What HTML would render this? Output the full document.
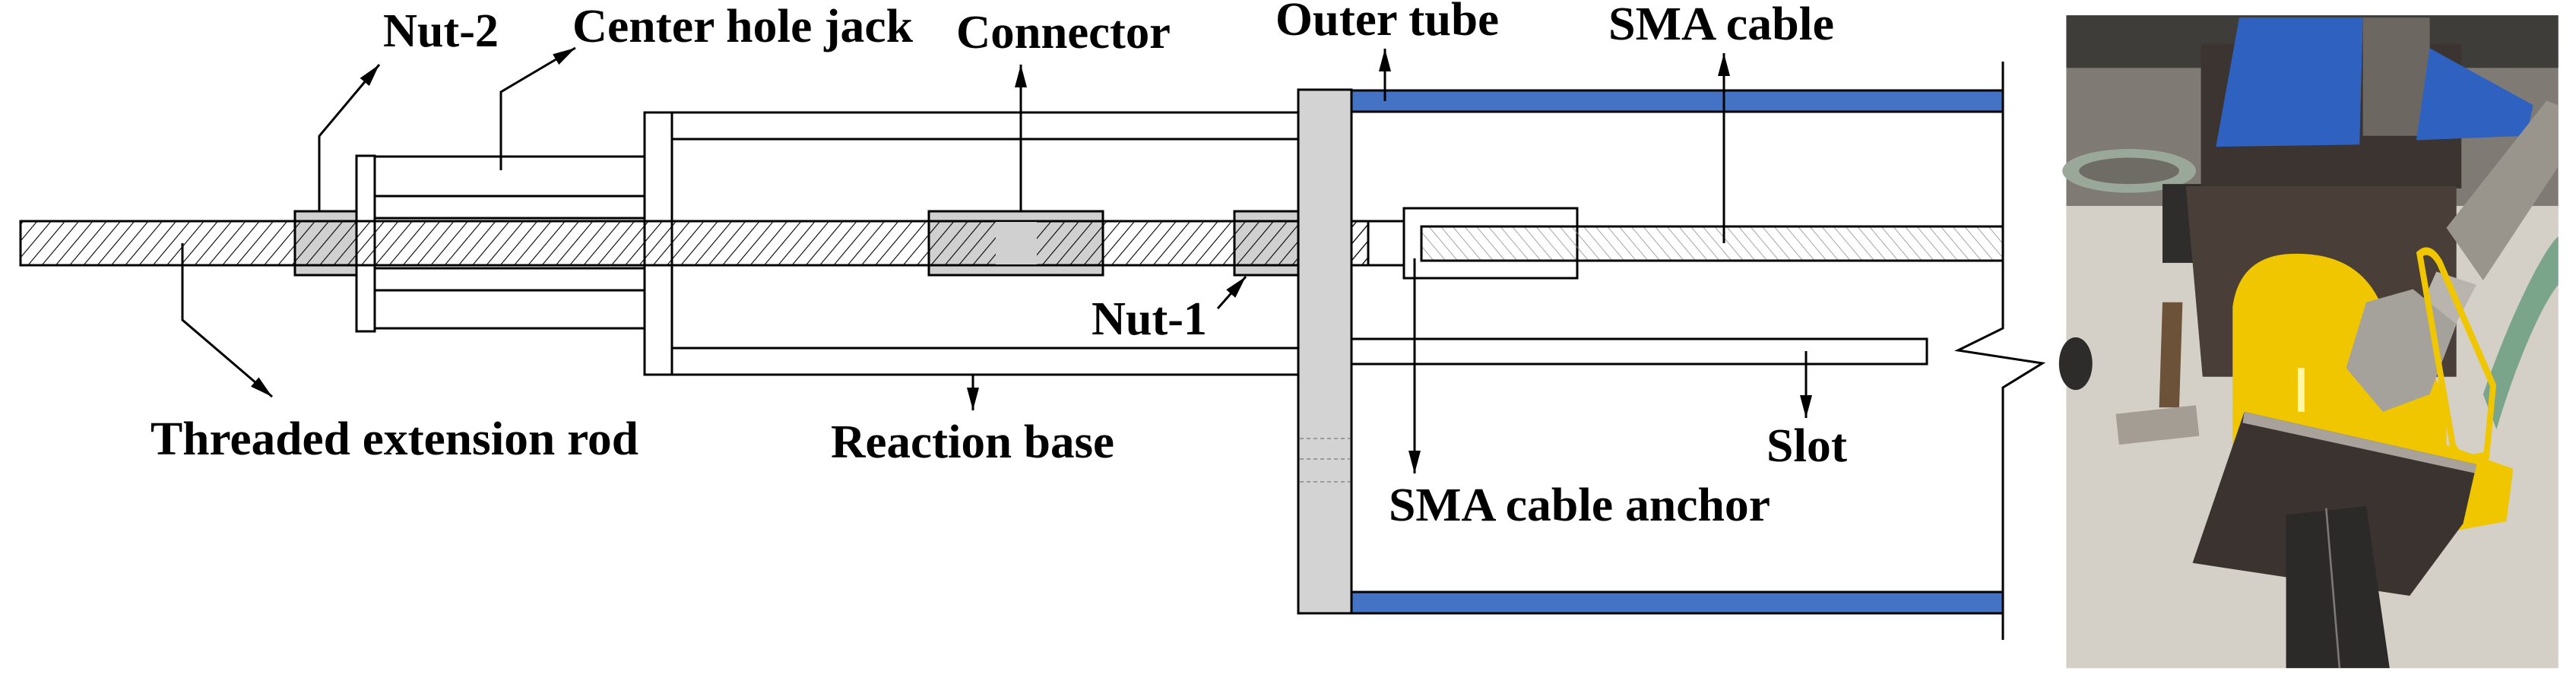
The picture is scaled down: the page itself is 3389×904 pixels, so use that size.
<!DOCTYPE html>
<html><head><meta charset="utf-8"><style>
html,body{margin:0;padding:0;background:#fff;}
svg{display:block;}
text{font-family:"Liberation Serif",serif;font-weight:bold;font-size:62px;fill:#000;}
</style></head><body>
<svg width="3389" height="904" viewBox="0 0 3389 904" xmlns="http://www.w3.org/2000/svg">
<defs>
<pattern id="h1" width="14" height="14" patternUnits="userSpaceOnUse" patternTransform="rotate(40)">
<line x1="0" y1="0" x2="0" y2="14" stroke="#000" stroke-width="2.2"/></pattern>
<pattern id="h2" width="12" height="12" patternUnits="userSpaceOnUse" patternTransform="rotate(-40)">
<line x1="0" y1="0" x2="0" y2="12" stroke="#888" stroke-width="1.5"/></pattern>
<marker id="ar" viewBox="0 0 30 16" refX="30" refY="8" markerWidth="30" markerHeight="16" markerUnits="userSpaceOnUse" orient="auto">
<path d="M0,0 L30,8 L0,16 z" fill="#000"/></marker>
</defs>
<g stroke="#000" stroke-width="3" fill="none">
<!-- reaction base -->
<path d="M1708,148 H848 V493 H1708"/>
<line x1="884" y1="148" x2="884" y2="493"/>
<line x1="884" y1="183" x2="1708" y2="183"/>
<line x1="884" y1="458" x2="1708" y2="458"/>
<!-- jack -->
<rect x="469" y="205" width="24" height="231" fill="#fff"/>
<line x1="493" y1="206" x2="848" y2="206"/>
<line x1="493" y1="258" x2="848" y2="258"/>
<line x1="493" y1="287" x2="848" y2="287"/>
<line x1="493" y1="353" x2="848" y2="353"/>
<line x1="493" y1="382" x2="848" y2="382"/>
<line x1="493" y1="432" x2="848" y2="432"/>
<!-- nuts and connector -->
<rect x="388" y="278" width="81" height="84" fill="#d0d0d0"/>
<rect x="1222" y="278" width="229" height="84" fill="#d0d0d0"/>
<rect x="1624" y="278" width="84" height="84" fill="#d0d0d0"/>
</g>
<!-- rod -->
<rect x="27" y="291" width="1773" height="58" fill="url(#h1)" stroke="#000" stroke-width="3"/>
<rect x="1310" y="292" width="54" height="56" fill="#d0d0d0"/>
<g stroke="#000" stroke-width="3" fill="none">
<!-- plate -->
<rect x="1708" y="118" width="70" height="689" fill="#d3d3d3"/>
<g stroke="#888" stroke-width="1.5" stroke-dasharray="5,4"><line x1="1710" y1="577" x2="1776" y2="577"/><line x1="1710" y1="604" x2="1776" y2="604"/><line x1="1710" y1="634" x2="1776" y2="634"/></g>
<!-- outer tube -->
<rect x="1778" y="119" width="857" height="28" fill="#4472c4"/>
<rect x="1778" y="779" width="857" height="28" fill="#4472c4"/>
<path d="M2635,81 V432 L2576,461 L2687,478 L2635,510 V842"/>
<!-- slot -->
<rect x="1778" y="446" width="757" height="33" fill="#fff"/>
<!-- rod continuation -->
<line x1="1778" y1="291" x2="1847" y2="291"/>
<line x1="1778" y1="349" x2="1847" y2="349"/>
<rect x="1847" y="274" width="228" height="92"/>
<rect x="1870" y="298" width="765" height="45" fill="url(#h2)"/>
<rect x="1778" y="291" width="22" height="58" fill="url(#h1)"/>
</g>
<!-- arrows -->
<g stroke="#000" stroke-width="3" fill="none" marker-end="url(#ar)">
<path d="M420,278 V179 L499,85"/>
<path d="M659,224 V121 L757,63"/>
<path d="M1343,278 V85"/>
<path d="M240,320 V421 L358,522"/>
<path d="M1280,493 V540"/>
<path d="M1602,406 L1639,364"/>
<path d="M1822,133 V64"/>
<path d="M2268,320 V70"/>
<path d="M1861,340 V623"/>
<path d="M2376,462 V550"/>
</g>
<!-- labels -->
<text x="504" y="61" textLength="152" lengthAdjust="spacingAndGlyphs">Nut-2</text>
<text x="753" y="55" textLength="448" lengthAdjust="spacingAndGlyphs">Center hole jack</text>
<text x="1258" y="63" textLength="282" lengthAdjust="spacingAndGlyphs">Connector</text>
<text x="1436" y="440" textLength="152" lengthAdjust="spacingAndGlyphs">Nut-1</text>
<text x="198" y="598" textLength="642" lengthAdjust="spacingAndGlyphs">Threaded extension rod</text>
<text x="1093" y="602" textLength="373" lengthAdjust="spacingAndGlyphs">Reaction base</text>
<text x="1678" y="46" textLength="294" lengthAdjust="spacingAndGlyphs">Outer tube</text>
<text x="2116" y="52" textLength="297" lengthAdjust="spacingAndGlyphs">SMA cable</text>
<text x="2324" y="607" textLength="106" lengthAdjust="spacingAndGlyphs">Slot</text>
<text x="1827" y="685" textLength="502" lengthAdjust="spacingAndGlyphs">SMA cable anchor</text>
<!-- photo -->
<g transform="translate(2700,0) scale(0.4394,0.5765)">
<rect x="42" y="35" width="1473" height="1490" fill="#d6d2ca"/>
<rect x="42" y="35" width="1473" height="440" fill="#7f7b74"/>
<rect x="42" y="35" width="1473" height="120" fill="#3f3d3a"/>
<ellipse cx="230" cy="390" rx="200" ry="50" fill="#9aa89a"/>
<ellipse cx="230" cy="390" rx="150" ry="30" fill="#6f6c66"/>
<rect x="42" y="470" width="1473" height="1055" fill="#d4d0c8"/>
<ellipse cx="70" cy="830" rx="50" ry="60" fill="#2e2c2a"/>
<path d="M1290,900 C1380,700 1480,560 1515,540 L1515,650 C1460,700 1380,850 1330,980 Z" fill="#7aa58a"/>
<rect x="330" y="420" width="120" height="180" fill="#2f2d2b"/>
<rect x="445" y="100" width="780" height="330" fill="#3b3430"/>
<path d="M400,425 L1210,425 L1210,860 L450,860 Z" fill="#4a3f38"/>
<rect x="930" y="40" width="200" height="270" fill="#6d6761"/>
<path d="M490,335 L560,40 L930,40 L920,330 Z" fill="#2f62c0"/>
<path d="M1130,110 L1440,240 L1420,310 L1090,320 Z" fill="#2f62c0"/>
<path d="M540,1050 L540,700 Q560,590 700,580 Q900,570 975,680 L1180,900 L1180,1060 Z" fill="#f0c600"/>
<rect x="735" y="840" width="20" height="100" fill="#fff6a8"/>
<path d="M330,690 L390,690 L380,930 L320,930 Z" fill="#6b5238"/>
<path d="M190,945 L430,925 L440,995 L200,1015 Z" fill="#a39d93"/>
<path d="M1180,520 L1480,230 L1515,240 L1515,380 L1290,640 Z" fill="#9a958c"/>
<path d="M1150,620 L1270,650 L1180,780 L1080,740 Z" fill="#b9b5ae"/>
<path d="M880,840 L940,690 L1080,660 L1210,740 L1130,900 L990,940 Z" fill="#a5a29c"/>
<path d="M1100,580 Q1130,560 1160,600 L1320,880 L1300,1040 L1230,1050 L1200,1020 Z" fill="none" stroke="#f0c600" stroke-width="18"/>
<path d="M1160,1010 L1380,1070 L1360,1190 L1180,1215 Z" fill="#f0c600"/>
<path d="M575,940 L1270,1060 L1230,1195 L1070,1360 L420,1285 Z" fill="#3a3330"/>
<path d="M575,940 L1270,1060 L1265,1080 L570,965 Z" fill="#a8a29a"/>
<path d="M700,1175 L940,1155 L1010,1525 L700,1525 Z" fill="#2b2a29"/>
<line x1="820" y1="1160" x2="860" y2="1525" stroke="#7a7774" stroke-width="6"/>
</g>
</svg>
</body></html>
